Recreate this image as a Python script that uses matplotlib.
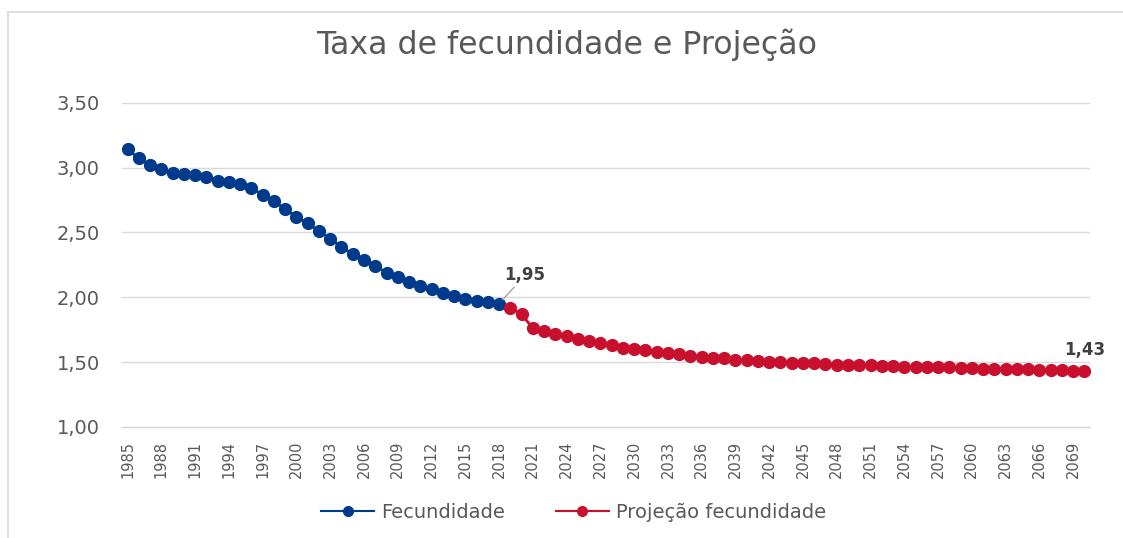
import matplotlib
matplotlib.use("Agg")
import matplotlib.pyplot as plt
from matplotlib.lines import Line2D

plt.rcParams['font.family'] = ['DejaVu Sans']

years_hist = list(range(1985, 2019))
fecundidade = [3.14, 3.07, 3.02, 2.99, 2.96, 2.95, 2.94, 2.93, 2.90, 2.89,
               2.87, 2.84, 2.79, 2.74, 2.68, 2.62, 2.57, 2.51, 2.45, 2.39,
               2.33, 2.29, 2.24, 2.19, 2.16, 2.12, 2.09, 2.06, 2.03, 2.01,
               1.99, 1.97, 1.96, 1.95]

years_proj = list(range(2019, 2071))
projecao = [1.92, 1.87, 1.76, 1.74, 1.72, 1.70, 1.68, 1.66, 1.645, 1.63,
            1.61, 1.60, 1.59, 1.58, 1.57, 1.56, 1.55, 1.54, 1.535, 1.53,
            1.52, 1.515, 1.51, 1.50, 1.50, 1.495, 1.49, 1.49, 1.485, 1.48,
            1.48, 1.475, 1.475, 1.47, 1.47, 1.465, 1.465, 1.46, 1.46, 1.46,
            1.455, 1.455, 1.45, 1.45, 1.45, 1.445, 1.445, 1.44, 1.44, 1.44,
            1.435, 1.43]

yticks = [1.00, 1.50, 2.00, 2.50, 3.00, 3.50]
ytick_labels = ["1,00", "1,50", "2,00", "2,50", "3,00", "3,50"]
xtick_years = list(range(1985, 2070, 3))

title = "Taxa de fecundidade e Projeção"
label_hist = "Fecundidade"
label_proj = "Projeção fecundidade"

blue = "#003A8C"
red = "#C8102E"
gray_text = "#595959"
grid_c = "#D9D9D9"

fig = plt.figure(figsize=(11.23, 5.38), dpi=100)
# chart-area border (only top and left edges fall inside the image)
fig.add_artist(Line2D([8 / 1123, 1.0], [1 - 12 / 538, 1 - 12 / 538],
                      transform=fig.transFigure, color="#D9D9D9", lw=1.2))
fig.add_artist(Line2D([8 / 1123, 8 / 1123], [0.0, 1 - 12 / 538],
                      transform=fig.transFigure, color="#D9D9D9", lw=1.2))

ax = fig.add_axes([122 / 1123, 1 - 427 / 538, (1090 - 122) / 1123, (427 - 102.7) / 538])

ax.plot(years_hist, fecundidade, color=blue, lw=2, marker="o", ms=8.5,
        zorder=3)
ax.plot(years_proj, projecao, color=red, lw=2, marker="o", ms=8.5,
        zorder=4)

ax.set_xlim(1984.5, 2070.5)
ax.set_ylim(1.0, 3.5)
ax.set_yticks(yticks)
ax.set_yticklabels(ytick_labels, fontsize=14, color=gray_text)
ax.set_xticks(xtick_years)
ax.set_xticklabels([str(y) for y in xtick_years], rotation=90, fontsize=10.5,
                   color=gray_text)
ax.tick_params(axis="both", length=0)
ax.tick_params(axis="y", pad=16)
ax.tick_params(axis="x", pad=10)
ax.grid(axis="y", color=grid_c, lw=1)
ax.set_axisbelow(True)
for s in ["top", "right", "left"]:
    ax.spines[s].set_visible(False)
ax.spines["bottom"].set_color(grid_c)
ax.spines["bottom"].set_linewidth(1)

ax.annotate("1,95", xy=(years_hist[-1], fecundidade[-1]), xytext=(2020.3, 2.10),
            ha="center", va="bottom", fontsize=12, fontweight="bold",
            color="#404040",
            arrowprops=dict(arrowstyle="-", color="#A6A6A6", lw=1,
                            shrinkA=0, shrinkB=4))
ax.annotate("1,43", xy=(years_proj[-1], projecao[-1]), xytext=(0, 9),
            textcoords="offset points", ha="center", va="bottom", fontsize=12,
            fontweight="bold", color="#404040")

fig.text(0.505, 1 - 45 / 538, title, ha="center", va="center", fontsize=22.8,
         color=gray_text)

handles = [Line2D([], [], color=blue, lw=1.5, marker="o", ms=7),
           Line2D([], [], color=red, lw=1.5, marker="o", ms=7)]
fig.legend(handles, [label_hist, label_proj], loc="center",
           bbox_to_anchor=(0.511, 1 - 512 / 538), ncol=2,
           frameon=False, fontsize=14, labelcolor=gray_text, handlelength=2.7,
           columnspacing=2.6, handletextpad=0.4)

fig.savefig("out.png", dpi=100)
